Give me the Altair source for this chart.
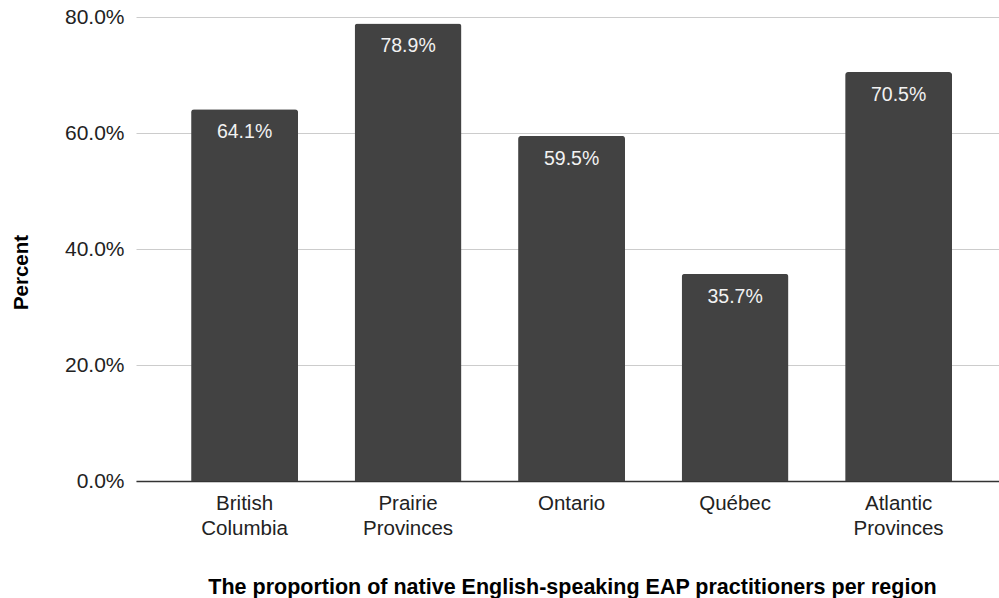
import altair as alt
import pandas as pd

regions = ["British Columbia", "Prairie Provinces", "Ontario", "Québec", "Atlantic Provinces"]
values = [0.641, 0.789, 0.595, 0.357, 0.705]
y_ticks = [0, 0.2, 0.4, 0.6, 0.8]

df = pd.DataFrame({"region": regions, "value": values})

FONT = "Liberation Sans"

x_enc = alt.X(
    "region:N",
    sort=regions,
    scale=alt.Scale(paddingInner=0.346, paddingOuter=0.312, align=0.54),
    axis=alt.Axis(
        title="The proportion of native English-speaking EAP practitioners per region",
        labelAngle=0,
        labelExpr="split(datum.label, ' ')",
        labelLineHeight=25,
        labelPadding=12,
        labelBaseline="top",
        labelFont=FONT,
        labelFontSize=20.5,
        labelColor="#222222",
        ticks=False,
        domainColor="#333333",
        domainWidth=1.5,
        titleFont=FONT,
        titleFontWeight="bold",
        titleFontSize=21.5,
        titleColor="#000000",
        titleX=436,
        titleY=112,
        titleBaseline="alphabetic",
        titleAnchor="middle",
        titleAlign="center",
    ),
)

y_enc = alt.Y(
    "value:Q",
    scale=alt.Scale(domain=[0, 0.8], nice=False),
    axis=alt.Axis(
        title="Percent",
        values=y_ticks,
        format=".1%",
        labelFont=FONT,
        labelFontSize=21,
        labelColor="#222222",
        labelPadding=12,
        ticks=False,
        domain=False,
        gridColor="#cccccc",
        gridWidth=1,
        titleFont=FONT,
        titleFontWeight="bold",
        titleFontSize=20.5,
        titleColor="#000000",
        titleAngle=-90,
        titleX=-109,
        titleY=255,
        titleBaseline="alphabetic",
        titleAlign="center",
    ),
)

bars = alt.Chart(df).mark_bar(
    color="#424242", cornerRadiusTopLeft=3, cornerRadiusTopRight=3
).encode(x=x_enc, y=y_enc)

labels = alt.Chart(df).mark_text(
    color="#f2f2f2", font=FONT, fontSize=19.5, baseline="alphabetic", dy=29
).encode(
    x=alt.X("region:N", sort=regions),
    y=alt.Y("value:Q"),
    text=alt.Text("value:Q", format=".1%"),
)

chart = (
    alt.layer(bars, labels)
    .properties(
        width=863,
        height=464,
        padding={"left": 136, "top": 17, "right": 0, "bottom": 117},
        autosize=alt.AutoSizeParams(type="none"),
        background="#ffffff",
    )
    .configure_view(stroke=None)
)

chart.save("out.html", embed_options={"renderer": "svg", "actions": False})
